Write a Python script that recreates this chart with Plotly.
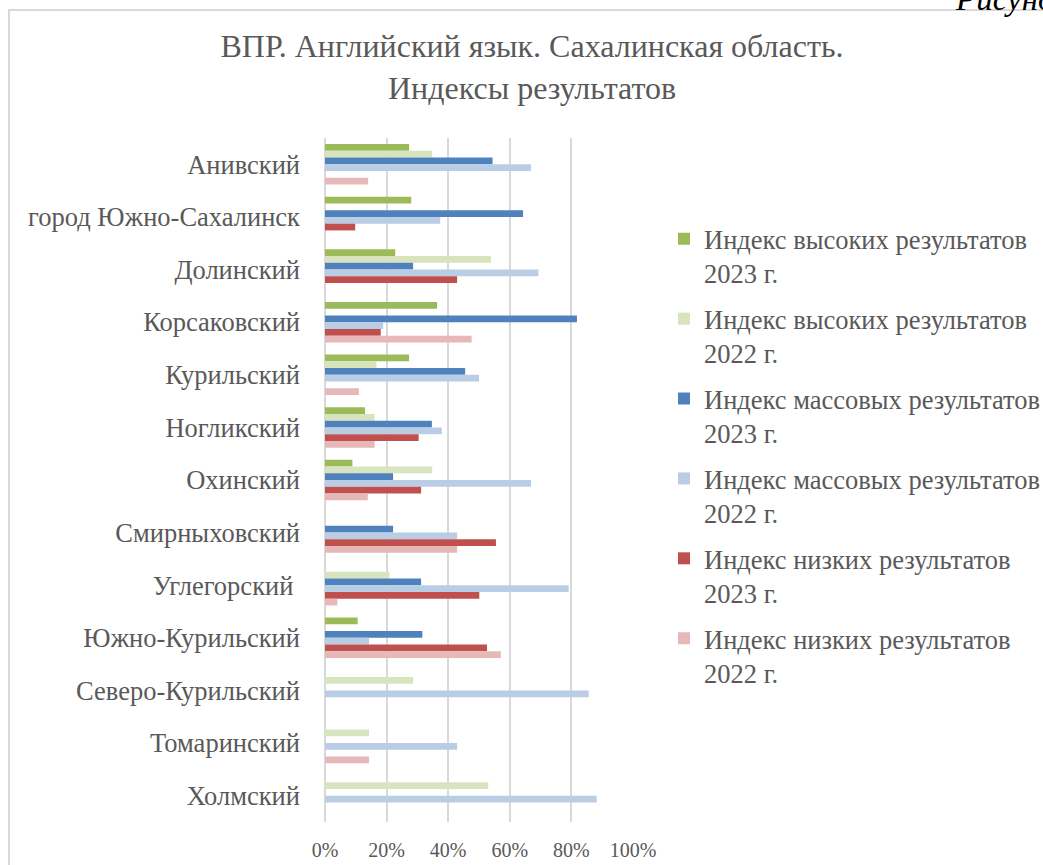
import plotly.graph_objects as go

categories = ["Анивский", "город Южно-Сахалинск", "Долинский", "Корсаковский", "Курильский",
              "Ногликский", "Охинский", "Смирныховский", "Углегорский ", "Южно-Курильский",
              "Северо-Курильский", "Томаринский", "Холмский"]

high_2023 = [27.3, 28.0, 22.8, 36.4, 27.3, 13.0, 8.9, None, None, 10.6, None, None, None]
high_2022 = [34.8, None, 53.9, None, 16.7, 16.1, 34.8, None, 20.9, None, 28.6, 14.3, 53.0]
mass_2023 = [54.4, 64.3, 28.6, 81.8, 45.5, 34.7, 22.1, 22.1, 31.2, 31.6, None, None, None]
mass_2022 = [66.9, 37.4, 69.3, 18.9, 50.0, 37.9, 66.9, 42.9, 79.1, 14.3, 85.6, 42.9, 88.2]
low_2023 = [None, 9.8, 42.9, 18.1, None, 30.4, 31.2, 55.5, 50.1, 52.6, None, None, None]
low_2022 = [14.0, None, None, 47.6, 11.0, 16.1, 13.9, 42.9, 4.0, 57.1, None, 14.3, None]

series_names = ["Индекс высоких результатов<br>2023 г.",
                "Индекс высоких результатов<br>2022 г.",
                "Индекс массовых результатов<br>2023 г.",
                "Индекс массовых результатов<br>2022 г.",
                "Индекс низких результатов<br>2023 г.",
                "Индекс низких результатов<br>2022 г."]
series_values = [high_2023, high_2022, mass_2023, mass_2022, low_2023, low_2022]
series_colors = ["#9BBB59", "#D7E4BD", "#4F81BD", "#B9CDE5", "#C0504D", "#E6B9B8"]

title_text = "ВПР. Английский язык. Сахалинская область.<br>Индексы результатов"

W, H = 1043, 865
L, R, T, B = 325, 410, 138, 43
PW, PH = W - L - R, H - T - B


def px_x(p):
    return (p - L) / PW


def px_y(p):
    return (H - B - p) / PH


FONT = "Liberation Serif, Times New Roman, serif"
GREY = "#595959"

fig = go.Figure()
for name, vals, col in zip(series_names, series_values, series_colors):
    fig.add_trace(go.Bar(
        y=categories,
        x=[v / 100 if v is not None else None for v in vals],
        name=name,
        orientation="h",
        marker=dict(color=col, line=dict(width=0)),
        legendgroup=name,
    ))

fig.update_layout(
    width=W, height=H,
    margin=dict(l=L, r=R, t=T, b=B, autoexpand=False),
    paper_bgcolor="white",
    plot_bgcolor="white",
    barmode="group",
    bargap=0.23,
    bargroupgap=0,
    font=dict(family=FONT, color=GREY),
    title=dict(text=title_text, x=532 / W, xref="container", xanchor="center",
               y=1 - 57 / H, yref="container", yanchor="middle",
               font=dict(family=FONT, size=32, color=GREY)),
    legend=dict(x=px_x(664), xanchor="left", y=px_y(215), yanchor="top",
                font=dict(family=FONT, size=26.5, color=GREY),
                traceorder="grouped", tracegroupgap=8, valign="top",
                bgcolor="rgba(0,0,0,0)"),
    xaxis=dict(range=[0, 1], tickformat=".0%", dtick=0.2, tick0=0,
               showgrid=True, gridcolor="#d9d9d9", gridwidth=2,
               zeroline=True, zerolinecolor="#d9d9d9", zerolinewidth=2,
               showline=False, ticks="", ticklabelstandoff=14,
               tickfont=dict(family=FONT, size=20, color=GREY), fixedrange=True),
    yaxis=dict(autorange="reversed", showgrid=False, zeroline=False, showline=False,
               ticks="", ticklabelstandoff=24,
               tickfont=dict(family=FONT, size=26.5, color=GREY), fixedrange=True),
    shapes=[dict(type="rect", xref="paper", yref="paper",
                 x0=px_x(9), x1=px_x(1060), y0=px_y(880), y1=px_y(10),
                 line=dict(color="#d9d9d9", width=2), fillcolor="rgba(0,0,0,0)", layer="below")],
    annotations=[dict(text="<i>Рисунок</i>", xref="paper", yref="paper",
                      x=px_x(953), xanchor="left", y=px_y(19), yanchor="bottom",
                      showarrow=False, font=dict(family=FONT, size=33, color="black"))],
)

fig.write_html("out.html", config={"displayModeBar": False},
               post_script="document.body.style.margin='0px';")
